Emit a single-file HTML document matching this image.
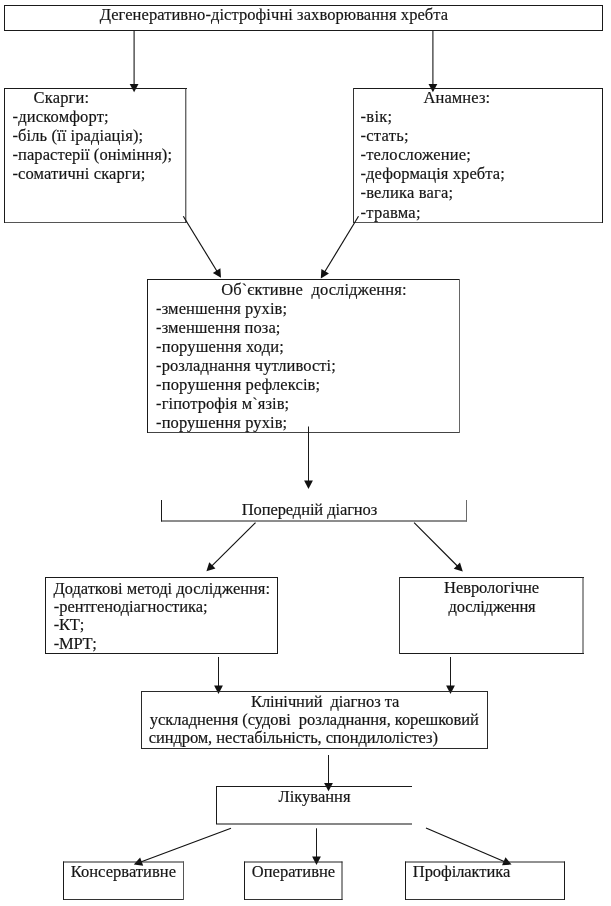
<!DOCTYPE html>
<html><head><meta charset="utf-8"><style>
html,body{margin:0;padding:0;background:#fff;width:611px;height:906px;overflow:hidden;-webkit-font-smoothing:antialiased}
svg{display:block;will-change:transform}
text{font-family:"Liberation Serif",serif;font-size:16.5px;fill:#151515;stroke:#151515;stroke-width:0.18px;white-space:pre}
</style></head><body>
<svg width="611" height="906" viewBox="0 0 611 906">
<line x1="4" y1="5.5" x2="603" y2="5.5" stroke="#1a1a1a" stroke-width="1"/><line x1="4" y1="30.5" x2="603" y2="30.5" stroke="#1a1a1a" stroke-width="1"/><line x1="4.5" y1="5" x2="4.5" y2="31" stroke="#1a1a1a" stroke-width="1"/><line x1="602.5" y1="5" x2="602.5" y2="31" stroke="#1a1a1a" stroke-width="1"/>
<line x1="134.1" y1="31" x2="134.10" y2="84.90" stroke="#222" stroke-width="1.15"/><polygon points="129.70,83.90 134.10,92.30 138.50,83.90" fill="#111"/>
<line x1="432.9" y1="31" x2="432.90" y2="84.90" stroke="#222" stroke-width="1.15"/><polygon points="428.50,83.90 432.90,92.30 437.30,83.90" fill="#111"/>
<line x1="4" y1="88.5" x2="187" y2="88.5" stroke="#1a1a1a" stroke-width="1"/><line x1="4" y1="222.5" x2="186.5" y2="222.5" stroke="#555" stroke-width="1"/><line x1="4.5" y1="88" x2="4.5" y2="223" stroke="#1a1a1a" stroke-width="1"/><line x1="185.8" y1="88" x2="185.8" y2="223" stroke="#2a2a2a" stroke-width="1"/>
<line x1="353" y1="88.5" x2="603" y2="88.5" stroke="#1a1a1a" stroke-width="1"/><line x1="353" y1="222.5" x2="603" y2="222.5" stroke="#555" stroke-width="1"/><line x1="353.5" y1="88" x2="353.5" y2="223" stroke="#333" stroke-width="1"/><line x1="602.5" y1="88" x2="602.5" y2="223" stroke="#1a1a1a" stroke-width="1"/>
<line x1="183.3" y1="216.2" x2="217.14" y2="271.49" stroke="#111" stroke-width="1.15"/><polygon points="212.86,272.93 221.00,277.80 220.37,268.34" fill="#111"/>
<line x1="358.5" y1="216.2" x2="324.64" y2="272.07" stroke="#111" stroke-width="1.15"/><polygon points="321.39,268.94 320.80,278.40 328.92,273.50" fill="#111"/>
<line x1="147" y1="279.5" x2="460" y2="279.5" stroke="#1a1a1a" stroke-width="1"/><line x1="147" y1="432.5" x2="460" y2="432.5" stroke="#444" stroke-width="1"/><line x1="147.5" y1="279" x2="147.5" y2="433" stroke="#1a1a1a" stroke-width="1"/><line x1="459.5" y1="279" x2="459.5" y2="433" stroke="#666" stroke-width="1"/>
<line x1="308.5" y1="426.5" x2="308.50" y2="481.60" stroke="#1a1a1a" stroke-width="1.0"/><polygon points="304.10,480.60 308.50,489.00 312.90,480.60" fill="#111"/>
<line x1="161.5" y1="500" x2="161.5" y2="521.5" stroke="#1a1a1a" stroke-width="1"/><line x1="161" y1="521" x2="467" y2="521" stroke="#1a1a1a" stroke-width="1"/><line x1="466.5" y1="500" x2="466.5" y2="521.5" stroke="#6a6a6a" stroke-width="1"/>
<line x1="255.5" y1="522.6" x2="211.65" y2="566.09" stroke="#111" stroke-width="1.15"/><polygon points="209.27,562.26 206.40,571.30 215.46,568.51" fill="#111"/>
<line x1="414.1" y1="522.6" x2="457.58" y2="566.26" stroke="#111" stroke-width="1.15"/><polygon points="453.75,568.65 462.80,571.50 459.99,562.44" fill="#111"/>
<line x1="45" y1="577.5" x2="278" y2="577.5" stroke="#1a1a1a" stroke-width="1"/><line x1="45" y1="653.5" x2="278" y2="653.5" stroke="#1a1a1a" stroke-width="1"/><line x1="45.5" y1="577" x2="45.5" y2="654" stroke="#1a1a1a" stroke-width="1"/><line x1="277.5" y1="577" x2="277.5" y2="654" stroke="#1a1a1a" stroke-width="1"/>
<line x1="399" y1="577.5" x2="584" y2="577.5" stroke="#1a1a1a" stroke-width="1"/><line x1="399" y1="653.5" x2="584" y2="653.5" stroke="#1a1a1a" stroke-width="1"/><line x1="399.5" y1="577" x2="399.5" y2="654" stroke="#333" stroke-width="1"/><line x1="583" y1="577" x2="583" y2="654" stroke="#333" stroke-width="1"/>
<line x1="218.5" y1="657" x2="218.50" y2="686.60" stroke="#1a1a1a" stroke-width="1.0"/><polygon points="214.10,685.60 218.50,694.00 222.90,685.60" fill="#111"/>
<line x1="450.5" y1="657" x2="450.50" y2="686.60" stroke="#1a1a1a" stroke-width="1.0"/><polygon points="446.10,685.60 450.50,694.00 454.90,685.60" fill="#111"/>
<line x1="141" y1="691.5" x2="488" y2="691.5" stroke="#2a2a2a" stroke-width="1"/><line x1="141" y1="748.5" x2="488" y2="748.5" stroke="#2a2a2a" stroke-width="1"/><line x1="141.5" y1="691" x2="141.5" y2="749" stroke="#2a2a2a" stroke-width="1"/><line x1="487.5" y1="691" x2="487.5" y2="749" stroke="#2a2a2a" stroke-width="1"/>
<line x1="328.5" y1="755" x2="328.50" y2="783.90" stroke="#1a1a1a" stroke-width="1.0"/><polygon points="324.10,782.90 328.50,791.30 332.90,782.90" fill="#111"/>
<line x1="216" y1="786.5" x2="412" y2="786.5" stroke="#1a1a1a" stroke-width="1"/><line x1="216" y1="824" x2="412" y2="824" stroke="#111" stroke-width="1.1"/><line x1="216.5" y1="786" x2="216.5" y2="824" stroke="#1a1a1a" stroke-width="1"/>
<line x1="231" y1="828.2" x2="140.73" y2="862.00" stroke="#111" stroke-width="1.15"/><polygon points="140.12,857.53 133.80,864.60 143.21,865.77" fill="#111"/>
<line x1="316.5" y1="828.3" x2="316.50" y2="857.60" stroke="#1a1a1a" stroke-width="1.0"/><polygon points="312.10,856.60 316.50,865.00 320.90,856.60" fill="#111"/>
<line x1="426" y1="828" x2="504.70" y2="861.69" stroke="#111" stroke-width="1.15"/><polygon points="502.05,865.34 511.50,864.60 505.51,857.25" fill="#111"/>
<line x1="63" y1="862" x2="184" y2="862" stroke="#222" stroke-width="1"/><line x1="63" y1="899.5" x2="184" y2="899.5" stroke="#333" stroke-width="1"/><line x1="63.5" y1="861.5" x2="63.5" y2="900" stroke="#1a1a1a" stroke-width="1"/><line x1="183.5" y1="861.5" x2="183.5" y2="900" stroke="#555" stroke-width="1"/>
<line x1="244" y1="862" x2="342.5" y2="862" stroke="#222" stroke-width="1"/><line x1="244" y1="899.5" x2="342.5" y2="899.5" stroke="#333" stroke-width="1"/><line x1="244.5" y1="861.5" x2="244.5" y2="900" stroke="#1a1a1a" stroke-width="1"/><line x1="342" y1="861.5" x2="342" y2="900" stroke="#222" stroke-width="1"/>
<line x1="405" y1="862" x2="565" y2="862" stroke="#222" stroke-width="1"/><line x1="405" y1="899.5" x2="565" y2="899.5" stroke="#333" stroke-width="1"/><line x1="405.5" y1="861.5" x2="405.5" y2="900" stroke="#1a1a1a" stroke-width="1"/><line x1="564.5" y1="861.5" x2="564.5" y2="900" stroke="#1a1a1a" stroke-width="1"/>
<text x="99.70" y="20.00" textLength="348.40" lengthAdjust="spacing">Дегенеративно-дістрофічні захворювання хребта</text>
<text x="33.50" y="103.30" textLength="55.60" lengthAdjust="spacing">Скарги:</text>
<text x="12.50" y="122.40" textLength="96.20" lengthAdjust="spacing">-дискомфорт;</text>
<text x="12.50" y="141.40" textLength="130.60" lengthAdjust="spacing">-біль (її ірадіація);</text>
<text x="12.50" y="160.30" textLength="159.50" lengthAdjust="spacing">-парастерії (оніміння);</text>
<text x="12.50" y="179.40" textLength="132.80" lengthAdjust="spacing">-соматичні скарги;</text>
<text x="423.50" y="103.30" textLength="66.60" lengthAdjust="spacing">Анамнез:</text>
<text x="360.50" y="122.40" textLength="31.70" lengthAdjust="spacing">-вік;</text>
<text x="360.50" y="141.40" textLength="48.10" lengthAdjust="spacing">-стать;</text>
<text x="360.50" y="160.30" textLength="110.30" lengthAdjust="spacing">-телосложение;</text>
<text x="360.50" y="179.40" textLength="144.30" lengthAdjust="spacing">-деформація хребта;</text>
<text x="360.50" y="198.40" textLength="92.50" lengthAdjust="spacing">-велика вага;</text>
<text x="360.50" y="217.70" textLength="60.00" lengthAdjust="spacing">-травма;</text>
<text x="221.20" y="294.60" textLength="185.30" lengthAdjust="spacing">Об`єктивне  дослідження:</text>
<text x="156.10" y="314.40" textLength="131.00" lengthAdjust="spacing">-зменшення рухів;</text>
<text x="156.10" y="333.30" textLength="124.30" lengthAdjust="spacing">-зменшення поза;</text>
<text x="156.10" y="352.00" textLength="127.70" lengthAdjust="spacing">-порушення ходи;</text>
<text x="156.10" y="370.80" textLength="179.70" lengthAdjust="spacing">-розладнання чутливості;</text>
<text x="156.10" y="389.70" textLength="164.00" lengthAdjust="spacing">-порушення рефлексів;</text>
<text x="156.10" y="408.80" textLength="133.00" lengthAdjust="spacing">-гіпотрофія м`язів;</text>
<text x="156.10" y="427.60" textLength="131.00" lengthAdjust="spacing">-порушення рухів;</text>
<text x="241.70" y="514.50" textLength="135.60" lengthAdjust="spacing">Попередній діагноз</text>
<text x="53.40" y="593.60" textLength="216.60" lengthAdjust="spacing">Додаткові методі дослідження:</text>
<text x="53.80" y="611.60" textLength="153.70" lengthAdjust="spacing">-рентгенодіагностика;</text>
<text x="53.80" y="629.60" textLength="30.50" lengthAdjust="spacing">-КТ;</text>
<text x="53.80" y="648.50" textLength="43.10" lengthAdjust="spacing">-МРТ;</text>
<text x="444.00" y="592.90" textLength="95.20" lengthAdjust="spacing">Неврологічне</text>
<text x="448.50" y="611.60" textLength="87.20" lengthAdjust="spacing">дослідження</text>
<text x="251.00" y="706.70" textLength="148.40" lengthAdjust="spacing">Клінічний  діагноз та</text>
<text x="149.80" y="724.60" textLength="329.10" lengthAdjust="spacing">ускладнення (судові  розладнання, корешковий</text>
<text x="148.80" y="742.70" textLength="289.10" lengthAdjust="spacing">синдром, нестабільність, спондилолістез)</text>
<text x="278.50" y="801.50" textLength="72.00" lengthAdjust="spacing">Лікування</text>
<text x="70.70" y="876.90" textLength="105.30" lengthAdjust="spacing">Консервативне</text>
<text x="251.80" y="876.70" textLength="83.40" lengthAdjust="spacing">Оперативне</text>
<text x="412.80" y="877.00" textLength="97.50" lengthAdjust="spacing">Профілактика</text>
</svg>
</body></html>
